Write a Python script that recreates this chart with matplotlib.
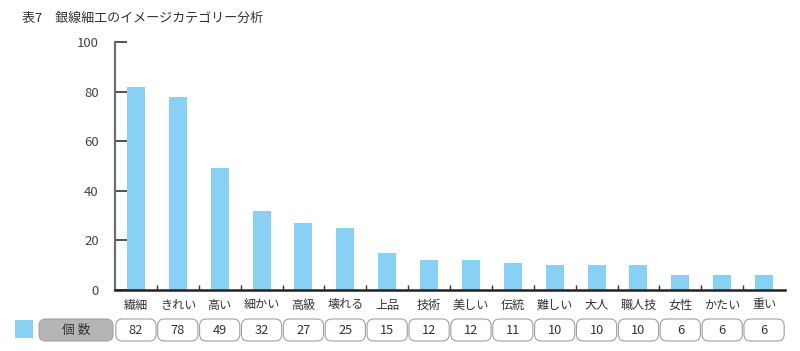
import numpy as np
import matplotlib.pyplot as plt
from matplotlib.patches import FancyBboxPatch, Rectangle

plt.rcParams['font.family'] = ['Noto Sans CJK JP', 'DejaVu Sans']

# data
categories = ['繊細', 'きれい', '高い', '細かい', '高級', '壊れる', '上品', '技術',
              '美しい', '伝統', '難しい', '大人', '職人技', '女性', 'かたい', '重い']
counts = [82, 78, 49, 32, 27, 25, 15, 12, 12, 11, 10, 10, 10, 6, 6, 6]
series_name = '個 数'
title = '表7　銀線細工のイメージカテゴリー分析'

W, H = 800, 351
bar_color = '#88d1f5'
grey = '#6e6e6e'
text_color = '#333333'

fig = plt.figure(figsize=(W / 100, H / 100), dpi=100)

# main chart, positions in pixels from top
left, right, top, bottom = 115, 785, 42, 290
ax = fig.add_axes([left / W, (H - bottom) / H, (right - left) / W, (bottom - top) / H])
x = np.arange(len(categories))
ax.bar(x, counts, width=0.43, color=bar_color, zorder=2)
ax.set_xlim(-0.5, len(categories) - 0.5)
ax.set_ylim(0, 100)

for s in ['top', 'right']:
    ax.spines[s].set_visible(False)
ax.spines['left'].set_color(grey)
ax.spines['left'].set_linewidth(1.6)
ax.spines['bottom'].set_color('#222222')
ax.spines['bottom'].set_linewidth(1.8)

ax.set_yticks([0, 20, 40, 60, 80, 100])
ax.tick_params(axis='y', direction='in', length=12 * 0.72, width=1.2, color='#333333',
               labelsize=9.5, labelcolor='#444444', pad=12 * 0.72 + 3)
ax.set_xticks(x[:-1] + 0.5)
ax.set_xticklabels([])
ax.tick_params(axis='x', direction='in', length=5 * 0.72, width=1, color='#333333')

# title
fig.text(22 / W, 1 - 18 / H, title, fontsize=9.4, color=text_color, va='center', ha='left')

# table row below: axes covering full width, x in category units, y in pixels from bottom
unit = (right - left) / len(categories)
x0 = -0.5 - left / unit
x1 = -0.5 + (W - left) / unit
band = 58
tab = fig.add_axes([0, 0, 1, band / H])
tab.set_xlim(x0, x1)
tab.set_ylim(0, band)
tab.axis('off')

def py(p):
    # pixel row from top -> y in table axes
    return H - p

rs = 0.16
for i, cat in enumerate(categories):
    tab.text(i, py(305), cat, fontsize=8.7, color=text_color, ha='center', va='center')
    box = FancyBboxPatch((i - 0.48, py(341)), 0.96, 22,
                         boxstyle=f'round,pad=0,rounding_size={rs}',
                         mutation_aspect=unit, facecolor='white',
                         edgecolor='#a0a0a0', linewidth=0.8)
    tab.add_patch(box)
    tab.text(i, py(330), str(counts[i]), fontsize=9.2, color=text_color,
             ha='center', va='center')

# legend square and series label
sq_x = x0 + 15 / unit
tab.add_patch(Rectangle((sq_x, py(338)), 18 / unit, 18, facecolor=bar_color, edgecolor='none'))
lab_x = x0 + 39 / unit
lab = FancyBboxPatch((lab_x, py(341)), 74 / unit, 22,
                     boxstyle=f'round,pad=0,rounding_size={rs}',
                     mutation_aspect=unit, facecolor='#b5b5b5',
                     edgecolor='#a0a0a0', linewidth=0.8)
tab.add_patch(lab)
tab.text(lab_x + 37 / unit, py(330), series_name, fontsize=9.2, color=text_color,
         ha='center', va='center')

fig.savefig('out.png', dpi=100)
